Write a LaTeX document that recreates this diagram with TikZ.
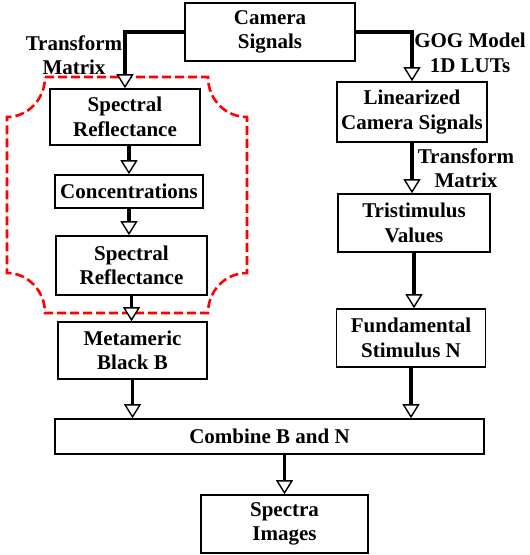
\documentclass[tikz,border=0pt]{standalone}
\usepackage{fontspec}
\setmainfont{Liberation Serif}
\usetikzlibrary{arrows.meta}
\tikzset{
  box/.style={draw=black, line width=1.6pt, align=center, inner sep=0pt, fill=white,
    font=\bfseries\fontsize{21}{24.5}\selectfont},
  lbl/.style={align=center, inner sep=0pt, font=\bfseries\fontsize{21}{24.5}\selectfont},
  conn/.style={line width=3.4pt, -{Triangle[open, fill=white, width=17pt, length=14pt, line width=1.4pt]}},
  region/.style={draw=red, line width=2.6pt, dash pattern=on 9pt off 4pt}
}
\begin{document}
\begin{tikzpicture}[x=1pt,y=-1pt]
\useasboundingbox (0,0) rectangle (530,555);
% red region
\draw[region] (45,77) -- (208,77) .. controls (208,99) and (225,117) .. (247,117)
  -- (247,273) .. controls (225,273) and (208,291) .. (208,313)
  -- (45,313) .. controls (45,291) and (28,273) .. (7,273)
  -- (7,117) .. controls (28,117) and (45,99) .. (45,77) -- cycle;
% nodes
\node[box, minimum width=170pt, minimum height=58pt] (cam) at (270,32) {Camera\\Signals};
\node[box, minimum width=150pt, minimum height=56pt] (sr1) at (125,117) {Spectral\\Reflectance};
\node[box, minimum width=148pt, minimum height=33pt] (conc) at (129,191.5) {Concentrations};
\node[box, minimum width=151pt, minimum height=59pt] (sr2) at (131.5,265.5) {Spectral\\Reflectance};
\node[box, minimum width=149pt, minimum height=57pt] (meta) at (132.5,350.5) {Metameric\\Black B};
\node[box, minimum width=150pt, minimum height=60pt] (lin) at (412,112) {Linearized\\Camera Signals};
\node[box, minimum width=152pt, minimum height=58pt] (tri) at (414,223) {Tristimulus\\Values};
\node[box, minimum width=149pt, minimum height=58pt] (fund) at (411,338) {Fundamental\\Stimulus N};
\node[box, minimum width=429pt, minimum height=35pt] (comb) at (269.5,436.5) {Combine B and N};
\node[box, minimum width=167pt, minimum height=58pt] (spec) at (284.5,524) {Spectra\\Images};
% labels
\node[lbl] (lblL) at (74,55) {Transform\\Matrix};
\node[lbl] (lblR1) at (470,53) {GOG Model\\1D LUTs};
\node[lbl] (lblR2) at (466,168) {Transform\\Matrix};
% connectors
\draw[conn] (cam.west) -| (sr1.north);
\draw[conn] (cam.east) -| (lin.north);
\draw[conn] (sr1.south -| conc.north) -- (conc.north);
\draw[conn] (conc.south) -- (conc.south |- sr2.north);
\draw[conn] (sr2.south) -- (sr2.south |- meta.north);
\draw[conn] (lin.south) -- (lin.south |- tri.north);
\draw[conn] (tri.south) -- (tri.south |- fund.north);
\draw[conn] (meta.south) -- (meta.south |- comb.north);
\draw[conn] (fund.south) -- (fund.south |- comb.north);
\draw[conn] (comb.south -| spec.north) -- (spec.north);
\end{tikzpicture}
\end{document}
